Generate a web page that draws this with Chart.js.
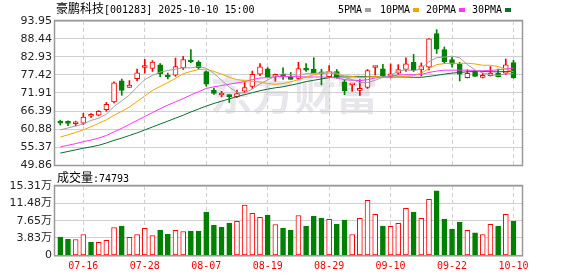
<!DOCTYPE html>
<html><head><meta charset="utf-8">
<script src="https://cdn.jsdelivr.net/npm/chart.js@4.4.0/dist/chart.umd.min.js"></script>
<style>
html,body{margin:0;padding:0;background:#fff;width:578px;height:276px;overflow:hidden;}
#wrap{position:relative;width:578px;height:276px;background:#fff;}
canvas{position:absolute;left:0;top:0;}
.t{position:absolute;white-space:nowrap;color:#000;line-height:14px;}
.cjk{font-family:"Noto Sans CJK SC";font-size:12px;}
.mono{font-family:"DejaVu Sans Mono";font-size:10px;}
.sq{position:absolute;width:6px;height:4px;}
</style></head><body>
<div id="wrap">
<canvas id="pc" width="578" height="276"></canvas>
<canvas id="vc" width="578" height="276"></canvas>
<div class="t" style="left:56px;top:1px;"><span class="cjk">豪鹏科技</span><span class="mono">[001283] 2025-10-10 15:00</span></div>
<div class="t mono" style="left:338px;top:3px;">5PMA</div><div class="sq" style="left:365px;top:8px;background:#a0a0a0"></div>
<div class="t mono" style="left:380px;top:3px;">10PMA</div><div class="sq" style="left:413px;top:8px;background:#f5a300"></div>
<div class="t mono" style="left:426px;top:3px;">20PMA</div><div class="sq" style="left:459px;top:8px;background:#ff33ff"></div>
<div class="t mono" style="left:472px;top:3px;">30PMA</div><div class="sq" style="left:505px;top:8px;background:#0a6e2e"></div>
<div class="t" id="vlab" style="left:57px;top:170px;"></div>
</div>
<script>
// ---- data ----
const dates = ['07-11','07-14','07-15','07-16','07-17','07-18','07-21','07-22','07-23','07-24','07-25','07-28','07-29','07-30','07-31',
 '08-01','08-04','08-05','08-06','08-07','08-08','08-11','08-12','08-13','08-14','08-15','08-18','08-19','08-20','08-21','08-22','08-25','08-26','08-27','08-28','08-29',
 '09-01','09-02','09-03','09-04','09-05','09-08','09-09','09-10','09-11','09-12','09-15','09-16','09-17','09-18','09-19','09-22','09-23','09-24','09-25','09-26','09-29','09-30',
 '10-09','10-10'];
const tickDates = ['07-16','07-28','08-07','08-19','08-29','09-10','09-22','10-10'];
const open  = [62.9,62.8,62.5,62.7,64.8,65.1,66.8,69.2,75.6,73.6,76.3,79.7,79.4,80.5,77.0,77.4,79.6,81.9,81.4,78.5,72.8,71.3,71.1,70.8,72.5,73.9,77.7,79.3,77.0,77.2,76.9,76.4,79.2,79.2,78.1,76.9,78.5,75.3,74.4,72.7,73.6,79.7,79.3,77.0,78.0,79.1,81.3,79.0,79.8,90.1,85.2,82.1,80.7,76.6,78.4,76.7,77.1,78.0,78.0,81.2];
const high  = [63.6,63.4,63.3,65.7,65.6,66.5,69.0,75.3,76.2,75.7,79.2,82.2,81.8,80.9,78.0,82.6,83.1,85.2,81.8,78.7,73.4,72.4,71.4,72.8,75.1,78.6,80.9,79.7,77.7,79.6,78.2,81.3,80.9,82.7,79.2,80.3,79.1,75.9,74.7,76.0,79.1,80.1,80.7,80.8,80.6,82.7,83.7,81.1,88.6,91.3,86.0,82.8,81.3,79.0,78.6,78.0,80.0,79.2,82.3,81.9];
const low   = [62.1,61.9,61.8,62.2,64.4,64.9,66.3,68.9,71.2,73.6,75.6,78.0,78.5,76.9,76.2,77.0,79.1,81.2,79.3,74.0,71.5,70.7,69.0,70.5,72.0,73.3,77.2,76.7,75.5,76.1,76.1,76.1,78.5,78.1,74.4,76.7,76.4,71.4,72.4,71.2,73.3,77.4,76.7,76.5,77.6,78.5,78.5,77.1,79.0,84.0,80.9,79.8,75.6,76.5,77.0,76.5,77.1,76.8,77.5,76.4];
const close = [62.7,62.6,62.8,64.5,64.9,66.3,68.4,75.0,72.7,74.3,78.1,80.0,81.4,77.8,76.8,80.0,82.1,81.4,79.6,74.6,71.8,71.4,70.8,71.7,73.6,77.6,79.9,76.9,77.4,77.0,76.1,79.4,78.9,78.1,77.8,78.5,76.7,72.6,74.6,72.9,78.8,79.9,77.2,77.8,79.1,80.8,78.8,80.2,88.5,85.3,81.5,80.7,77.7,77.9,77.0,76.9,78.0,76.8,80.5,76.6];
const ma5  = [60.6,61.2,61.8,62.4,63.5,64.2,65.4,67.8,69.5,71.3,73.7,76.0,77.3,78.3,78.8,79.2,79.6,79.6,80.0,79.5,77.9,75.8,73.7,72.1,71.9,73.1,74.7,75.9,77.1,77.8,77.5,77.4,77.8,77.9,78.1,78.5,78.0,76.7,76.0,75.1,75.1,75.8,76.7,77.3,78.6,79.0,78.7,79.3,81.5,82.7,82.9,83.2,82.7,80.6,79.0,78.0,77.5,77.3,77.8,77.8];
const ma10 = [58.4,59.1,59.8,60.6,61.6,62.6,63.7,65.1,66.3,67.6,69.3,71.0,72.7,73.9,75.1,76.4,77.8,78.5,79.1,79.2,78.5,77.7,76.7,76.0,75.7,75.5,75.3,74.8,74.6,74.8,75.3,76.0,76.8,77.5,77.9,78.0,77.7,77.2,77.0,76.6,76.8,76.9,76.7,76.7,76.8,77.0,77.2,78.0,79.4,80.6,80.9,81.0,81.0,81.0,80.8,80.4,80.4,80.0,79.2,78.4];
const ma20 = [55.4,55.9,56.4,57.0,57.5,58.1,58.9,60.0,61.1,62.3,63.5,64.7,65.9,67.1,68.2,69.2,70.2,71.3,72.3,73.3,73.8,74.2,74.6,75.0,75.4,76.0,76.5,76.6,76.9,77.0,76.9,76.9,76.8,76.8,76.8,76.7,76.5,76.0,75.8,75.7,76.0,76.5,76.8,77.1,77.4,77.5,77.5,77.6,78.2,78.6,78.9,78.9,78.9,78.9,78.8,78.7,78.8,79.0,79.3,79.5];
const ma30 = [53.5,54.0,54.5,55.0,55.4,55.9,56.6,57.4,58.1,58.9,59.7,60.6,61.5,62.4,63.3,64.2,65.1,66.1,67.0,67.9,68.7,69.4,70.1,70.8,71.4,72.0,72.6,73.1,73.5,73.8,74.3,74.8,75.4,75.8,76.2,76.6,76.9,76.8,76.9,76.9,76.9,76.9,76.7,76.7,76.8,76.8,76.7,76.7,77.0,77.3,77.7,78.0,78.2,78.4,78.5,78.5,78.4,78.4,78.5,78.5];
const volume = [40000,35500,35000,46000,29000,28500,33000,61500,64500,39500,46000,59500,43500,55500,46500,55000,52500,53500,53500,95500,67000,62000,71000,75000,111000,92500,84000,89000,68000,60000,55500,88000,64500,86800,82000,79300,69000,78000,46000,81500,121500,90500,64500,63800,70500,103800,95600,81500,123800,142300,80000,57800,73300,55000,49500,46000,68200,64500,90500,74793];
const volUp  = [0,0,1,1,0,1,1,1,0,1,1,1,1,0,0,1,1,0,0,0,0,0,0,1,1,1,1,0,1,0,0,1,0,0,0,1,0,0,1,1,1,1,0,1,1,1,0,1,1,0,0,0,0,1,0,1,1,0,1,0];
const priceTicks = [49.86,55.37,60.88,66.39,71.91,77.42,82.93,88.44,93.95];
const volTicks = [0,38300,76500,114800,153100];

// ---- styling ----
const RED = '#ff0000', GREEN = '#008000';
const idx = dates.map((_, i) => i);
const tickIdx = tickDates.map(d => dates.indexOf(d));
const isUp = idx.map(i => close[i] >= open[i]);
const XMIN = -0.69, XMAX = 60.11;

Chart.defaults.font.family = '"DejaVu Sans", "Noto Sans CJK SC"';
Chart.defaults.animation = false;

document.getElementById('vlab').innerHTML = '<span class="cjk">成交量</span><span class="mono">:' + volume[volume.length - 1] + '</span>';

const frame = {
  id: 'frame',
  afterDraw(chart) {
    const a = chart.chartArea, c = chart.ctx;
    c.save();
    c.strokeStyle = '#999';
    c.lineWidth = 1.5;
    c.strokeRect(a.left - 0.5, a.top - 0.5, a.right - a.left + 1, a.bottom - a.top + 1);
    c.restore();
  }
};
const watermark = {
  id: 'wm',
  beforeDatasetsDraw(chart) {
    const c = chart.ctx;
    c.save();
    c.font = 'bold 42px "Noto Sans CJK SC"';
    c.fillStyle = 'rgba(200,200,210,0.45)';
    c.textAlign = 'center';
    c.textBaseline = 'middle';
    c.fillText('东方财富', 294, 94);
    c.restore();
  }
};

const xScale = (showLabels) => ({
  type: 'linear', min: XMIN, max: XMAX, offset: false, bounds: 'data',
  afterBuildTicks: s => { s.ticks = tickIdx.map(v => ({ value: v })); },
  afterFit: s => { s.height = showLabels ? 20.7 : 0; },
  grid: { color: '#cfcfcf', drawTicks: false, lineWidth: 1, offset: false },
  border: { display: false, dash: [4, 3] },
  ticks: {
    display: showLabels, maxRotation: 0, autoSkip: false, padding: 5,
    color: RED, font: { family: 'DejaVu Sans Mono', size: 10 },
    callback: v => dates[Math.round(v)]
  }
});

const line = (data, color) => ({
  type: 'line', data: idx.map(i => ({ x: i, y: data[i] })),
  borderColor: color, borderWidth: 1, pointRadius: 0, tension: 0, order: 0
});

new Chart(document.getElementById('pc'), {
  type: 'bar',
  data: {
    datasets: [
      line(ma5, '#a0a0a0'),
      line(ma10, '#f5a300'),
      line(ma20, '#ff33ff'),
      line(ma30, '#0a6e2e'),
      { type: 'bar', order: 1, grouped: false, barThickness: 5, minBarLength: 2,
        data: idx.map(i => ({ x: i, y: [Math.min(open[i], close[i]), Math.max(open[i], close[i])] })),
        backgroundColor: idx.map(i => isUp[i] ? '#ffffff' : GREEN),
        borderColor: idx.map(i => isUp[i] ? RED : GREEN),
        borderWidth: 1, borderSkipped: false },
      { type: 'bar', order: 2, grouped: false, barThickness: 1,
        data: idx.map(i => ({ x: i, y: [low[i], high[i]] })),
        backgroundColor: idx.map(i => isUp[i] ? RED : GREEN), borderWidth: 0 }
    ]
  },
  options: {
    responsive: false, devicePixelRatio: 1, animation: false,
    layout: { padding: { left: 0, right: 56, top: 21, bottom: 111 } },
    plugins: { legend: { display: false }, tooltip: { enabled: false } },
    scales: {
      x: xScale(false),
      y: {
        min: priceTicks[0], max: priceTicks[priceTicks.length - 1],
        afterBuildTicks: s => { s.ticks = priceTicks.map(v => ({ value: v })); },
        afterFit: s => { s.width = 55; },
        grid: { color: '#d0d0d0', drawTicks: false },
        border: { display: false },
        ticks: { padding: 3, color: '#222', font: { size: 11 }, callback: v => v.toFixed(2) }
      }
    }
  },
  plugins: [watermark, frame]
});

new Chart(document.getElementById('vc'), {
  type: 'bar',
  data: {
    datasets: [{
      data: idx.map(i => ({ x: i, y: volume[i] })),
      barThickness: 5, grouped: false,
      backgroundColor: idx.map(i => volUp[i] ? '#ffffff' : GREEN),
      borderColor: idx.map(i => volUp[i] ? RED : GREEN),
      borderWidth: 1, borderSkipped: false
    }]
  },
  options: {
    responsive: false, devicePixelRatio: 1, animation: false,
    layout: { padding: { left: 0, right: 56, top: 186, bottom: 0 } },
    plugins: { legend: { display: false }, tooltip: { enabled: false } },
    scales: {
      x: xScale(true),
      y: {
        min: volTicks[0], max: volTicks[volTicks.length - 1],
        afterBuildTicks: s => { s.ticks = volTicks.map(v => ({ value: v })); },
        afterFit: s => { s.width = 55; },
        grid: { color: '#d0d0d0', drawTicks: false },
        border: { display: false },
        ticks: { padding: 3, color: '#222', font: { size: 11 },
          callback: v => v === 0 ? '0' : (v / 10000).toFixed(2) + '万' }
      }
    }
  },
  plugins: [frame]
});
</script>
</body></html>
